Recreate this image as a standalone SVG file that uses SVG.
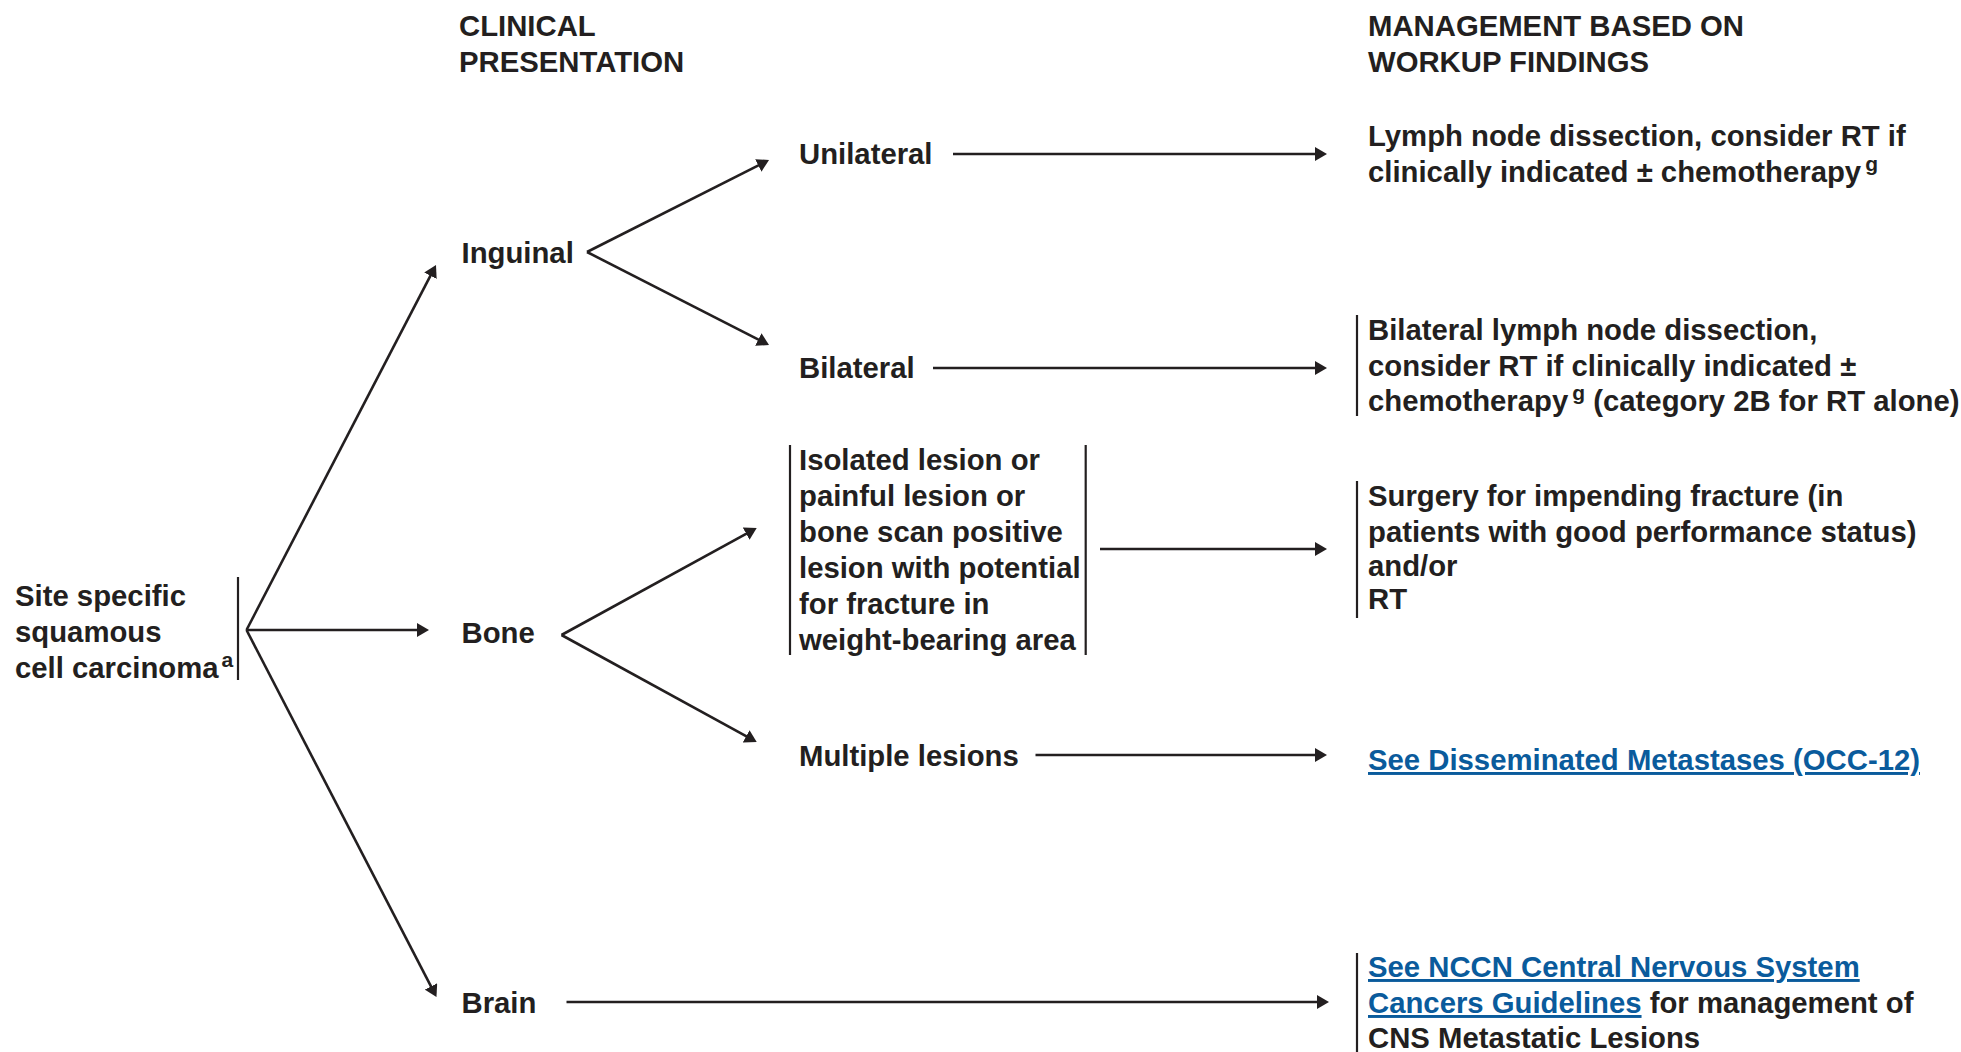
<svg xmlns="http://www.w3.org/2000/svg" width="1961" height="1052" viewBox="0 0 1961 1052">
  <style>
    text { font-family: "Liberation Sans", Arial, Helvetica, sans-serif; font-weight: bold; font-size: 29.3px; fill: #231f20; }
    .link { fill: #0a5b9c; text-decoration: underline; }
    .sup { font-size: 21px; }
    .edge { stroke: #231f20; stroke-width: 2.6; fill: none; marker-end: url(#ah); }
    .bar { stroke: #231f20; stroke-width: 2.2; fill: none; }
  </style>
  <defs>
    <marker id="ah" markerUnits="userSpaceOnUse" viewBox="0 0 12 14" refX="4" refY="7" markerWidth="12" markerHeight="14" orient="auto">
      <path d="M0,0 L12,7 L0,14 Z" fill="#231f20"/>
    </marker>
  </defs>
  <rect width="1961" height="1052" fill="#ffffff"/>

  <!-- column headings -->
  <g id="head-clinical">
    <text x="459" y="36">CLINICAL</text>
    <text x="459" y="72">PRESENTATION</text>
  </g>
  <g id="head-management">
    <text x="1368" y="36">MANAGEMENT BASED ON</text>
    <text x="1368" y="72">WORKUP FINDINGS</text>
  </g>

  <!-- connectors -->
  <g id="connectors">
    <path class="edge" d="M246.5,630 L432.3,272.1"/>
    <path class="edge" d="M246.5,630 L421,630"/>
    <path class="edge" d="M246.5,630 L432.8,989.9"/>
    <path class="edge" d="M587,252 L761.9,163.6"/>
    <path class="edge" d="M587,252 L761.9,341.4"/>
    <path class="edge" d="M561.5,635 L749.7,531.8"/>
    <path class="edge" d="M561.5,635 L749.7,738.2"/>
    <path class="edge" d="M953,154 L1319,154"/>
    <path class="edge" d="M933,368 L1319,368"/>
    <path class="edge" d="M1100,549 L1319,549"/>
    <path class="edge" d="M1035.5,755 L1319,755"/>
    <path class="edge" d="M566.5,1002 L1321,1002"/>
  </g>

  <!-- start node -->
  <g id="node-scc">
    <text x="15" y="606">Site specific</text>
    <text x="15" y="642">squamous</text>
    <text x="15" y="678">cell carcinoma<tspan class="sup" dx="3" dy="-11">a</tspan></text>
    <line class="bar" x1="238" y1="577" x2="238" y2="680"/>
  </g>

  <!-- clinical presentation -->
  <g id="node-inguinal"><text x="461.5" y="263">Inguinal</text></g>
  <g id="node-bone"><text x="461.5" y="643">Bone</text></g>
  <g id="node-brain"><text x="461.5" y="1013">Brain</text></g>

  <g id="node-unilateral"><text x="799" y="164">Unilateral</text></g>
  <g id="node-bilateral"><text x="799" y="378">Bilateral</text></g>
  <g id="node-isolated">
    <line class="bar" x1="790" y1="445" x2="790" y2="655"/>
    <text x="799" y="470">Isolated lesion or</text>
    <text x="799" y="506">painful lesion or</text>
    <text x="799" y="542">bone scan positive</text>
    <text x="799" y="577.5">lesion with potential</text>
    <text x="799" y="613.5">for fracture in</text>
    <text x="799" y="649.5">weight-bearing area</text>
    <line class="bar" x1="1085.7" y1="445" x2="1085.7" y2="655"/>
  </g>
  <g id="node-multiple"><text x="799" y="766">Multiple lesions</text></g>

  <!-- management -->
  <g id="mgmt-unilateral">
    <text x="1368" y="146">Lymph node dissection, consider RT if</text>
    <text x="1368" y="182">clinically indicated ± chemotherapy<tspan class="sup" dx="4" dy="-11">g</tspan></text>
  </g>
  <g id="mgmt-bilateral">
    <line class="bar" x1="1357" y1="315" x2="1357" y2="416"/>
    <text x="1368" y="340">Bilateral lymph node dissection,</text>
    <text x="1368" y="376">consider RT if clinically indicated ±</text>
    <text x="1368" y="411">chemotherapy<tspan class="sup" dx="4" dy="-11">g</tspan><tspan dy="11"> (category 2B for RT alone)</tspan></text>
  </g>
  <g id="mgmt-isolated">
    <line class="bar" x1="1357" y1="481" x2="1357" y2="618"/>
    <text x="1368" y="506">Surgery for impending fracture (in</text>
    <text x="1368" y="542">patients with good performance status)</text>
    <text x="1368" y="576">and/or</text>
    <text x="1368" y="609">RT</text>
  </g>
  <g id="mgmt-multiple">
    <text x="1368" y="770" class="link">See Disseminated Metastases (OCC-12)</text>
  </g>
  <g id="mgmt-brain">
    <line class="bar" x1="1357" y1="953" x2="1357" y2="1052"/>
    <text x="1368" y="977" class="link">See NCCN Central Nervous System</text>
    <text x="1368" y="1013"><tspan class="link">Cancers Guidelines</tspan> for management of</text>
    <text x="1368" y="1048">CNS Metastatic Lesions</text>
  </g>
</svg>
